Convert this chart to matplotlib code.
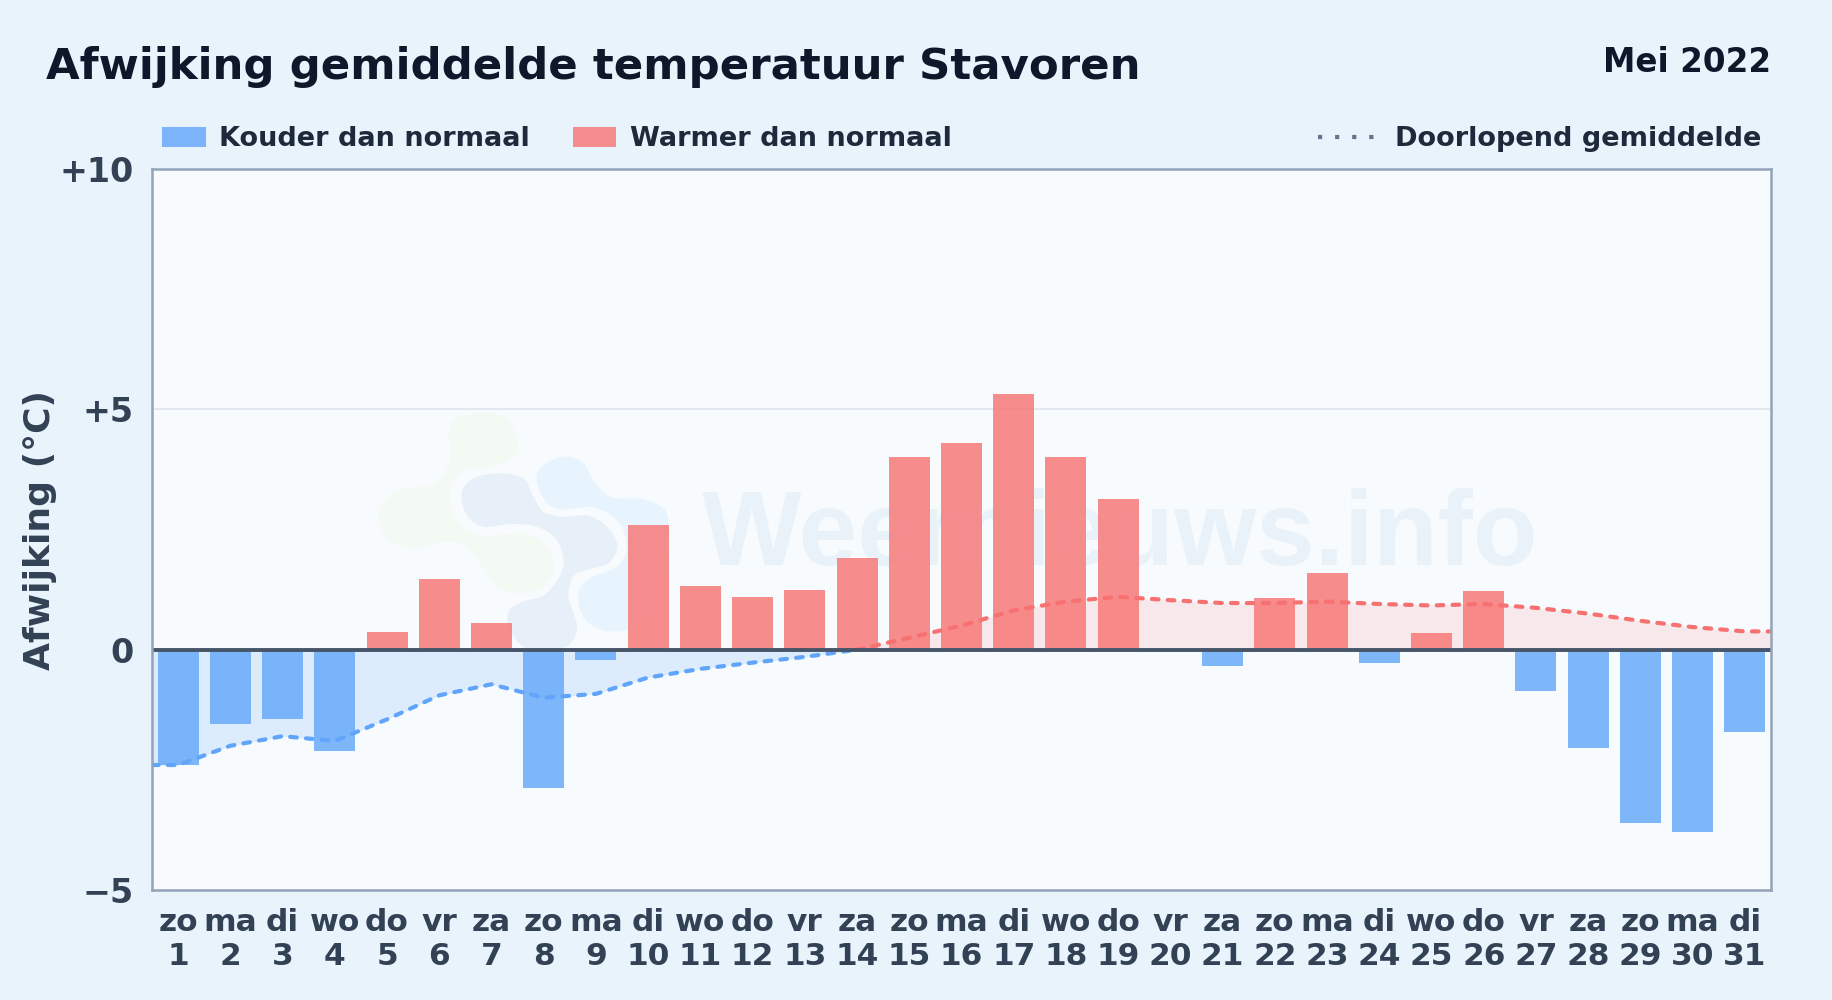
import numpy as np
import matplotlib
matplotlib.use("Agg")
import matplotlib.pyplot as plt
from matplotlib.lines import Line2D
from matplotlib.patches import PathPatch, Rectangle
from matplotlib.path import Path

W, H = 1832, 1000

# data
weekdays = ["zo", "ma", "di", "wo", "do", "vr", "za"] * 4 + ["zo", "ma", "di"]
days = np.arange(1, 32)
afwijking = [-2.4, -1.55, -1.45, -2.1, 0.37, 1.47, 0.55, -2.87, -0.22, 2.6,
             1.32, 1.1, 1.24, 1.9, 4.0, 4.3, 5.32, 4.0, 3.14, 0.0,
             -0.35, 1.07, 1.6, -0.28, 0.35, 1.22, -0.85, -2.05, -3.6, -3.8, -1.72]
gemiddelde = [-2.4, -2.0, -1.8, -1.9, -1.45, -0.95, -0.72, -1.0, -0.92, -0.58,
              -0.4, -0.27, -0.15, 0.0, 0.25, 0.5, 0.82, 1.0, 1.1, 1.03,
              0.97, 0.97, 1.0, 0.95, 0.92, 0.95, 0.87, 0.75, 0.6, 0.47, 0.38]
y_ticks = [-5, 0, 5, 10]
y_ticklabels = ["\u22125", "0", "+5", "+10"]

# logo outlines of the watermark, in pixels of a crop at (360, 390) scaled 3x
logo_green = [(265, 130), (290, 85), (370, 70), (440, 85), (475, 160), (455, 205), (390, 232),
              (320, 240), (280, 270), (268, 330), (295, 395), (360, 436), (440, 432), (500, 432),
              (560, 470), (582, 530), (550, 590), (480, 610), (410, 590), (360, 520), (320, 470),
              (260, 455), (170, 472), (100, 460), (60, 410), (65, 345), (120, 300), (225, 280),
              (265, 225), (272, 170)]
logo_dark = [(305, 310), (340, 265), (420, 250), (490, 265), (515, 310), (550, 365), (610, 380),
             (690, 378), (750, 420), (772, 470), (745, 520), (680, 540), (640, 560), (625, 620),
             (650, 700), (640, 750), (600, 775), (500, 775), (450, 720), (445, 665), (490, 635),
             (560, 610), (610, 530), (590, 450), (530, 410), (450, 402), (370, 410), (320, 375)]
logo_light = [(530, 255), (565, 215), (620, 200), (670, 220), (700, 270), (750, 320), (850, 328),
              (910, 355), (925, 400), (915, 480), (895, 600), (860, 690), (790, 722), (720, 718),
              (670, 680), (655, 610), (690, 565), (770, 530), (800, 470), (775, 395), (700, 352),
              (600, 358), (550, 325)]

BG = "#e8f3fc"
PLOT_BG = "#f7fbfe"
COLD = "#60a5fa"
WARM = "#f87171"
TICK_COL = "#334155"
TITLE_COL = "#0f172a"
LEGEND_COL = "#1e293b"

plt.rcParams["font.family"] = ["DejaVu Sans"]
plt.rcParams["font.weight"] = "bold"

fig = plt.figure(figsize=(W / 100, H / 100), dpi=100, facecolor=BG)
left, right, top, bottom = 152, 1771, 169, 890
ax = fig.add_axes([left / W, 1 - bottom / H, (right - left) / W, (bottom - top) / H])
ax.set_facecolor(PLOT_BG)
ax.set_xlim(0.5, 31.5)
ax.set_ylim(-5, 10)


def fx(x):
    return x / W


def fy(y):
    return 1 - y / H


def logo_blob(outline, color):
    # closed smooth shape through the outline points
    pts = np.array(outline, dtype=float)
    pts = np.c_[360 + pts[:, 0] / 3, 390 + pts[:, 1] / 3]
    pts = np.c_[(pts[:, 0] - left) / (right - left), (bottom - pts[:, 1]) / (bottom - top)]
    n = len(pts)
    verts = [pts[0]]
    codes = [Path.MOVETO]
    for i in range(n):
        p0, p1, p2, p3 = pts[i - 1], pts[i], pts[(i + 1) % n], pts[(i + 2) % n]
        verts += [p1 + (p2 - p0) / 6, p2 - (p3 - p1) / 6, p2]
        codes += [Path.CURVE4] * 3
    ax.add_patch(PathPatch(Path(verts, codes), transform=ax.transAxes, facecolor=color,
                           lw=0, zorder=1))


logo_blob(logo_green, "#f3f9f3")
logo_blob(logo_light, "#e8f4fd")
logo_blob(logo_dark, "#e7eff8")
ax.text((702 - left) / (right - left), (bottom - 565) / (bottom - top), "Weernieuws.info",
        transform=ax.transAxes, fontsize=76, fontweight="bold", family="Liberation Sans",
        color="#e9f2f9", va="baseline", ha="left", zorder=1)

ax.axhline(5, color="#e2e8f0", lw=1.4, zorder=1.5)

# shaded running mean, split on sign
line_x = np.r_[0.5, days, 31.5]
line_y = np.r_[gemiddelde[0], gemiddelde, gemiddelde[-1]]
neg = line_y <= 0
pos = line_y >= 0
ax.fill_between(line_x, line_y, 0, where=neg, color=COLD, alpha=0.17, lw=0, zorder=2)
ax.fill_between(line_x, line_y, 0, where=pos, color=WARM, alpha=0.13, lw=0, zorder=2)

values = np.array(afwijking)
bar_cols = [WARM if v >= 0 else COLD for v in values]
ax.bar(days, values, width=0.785, color=bar_cols, alpha=0.8, lw=0, zorder=3)

ax.plot(line_x[neg], line_y[neg], color=COLD, lw=3, ls=(0, (1.6, 2.2)),
        dash_capstyle="round", zorder=4)
ax.plot(line_x[pos], line_y[pos], color=WARM, lw=3, ls=(0, (1.6, 2.2)),
        dash_capstyle="round", zorder=4)

ax.axhline(0, color="#475569", lw=2.8, zorder=5)

for s in ax.spines.values():
    s.set_color("#94a3b8")
    s.set_linewidth(1.8)
    s.set_zorder(6)

ax.set_yticks(y_ticks)
ax.set_yticklabels(y_ticklabels, fontsize=24, color=TICK_COL, fontweight="bold")
ax.set_xticks(days)
ax.set_xticklabels([f"{w}\n{d}" for w, d in zip(weekdays, days)], fontsize=22.5, color=TICK_COL,
                   fontweight="bold", linespacing=1.2)
ax.tick_params(axis="both", length=0)
ax.tick_params(axis="x", pad=13)
ax.tick_params(axis="y", pad=13)

fig.text(fx(40), fy(530), "Afwijking (\u00b0C)", rotation=90, fontsize=26, color=TICK_COL,
         fontweight="bold", ha="center", va="center")
fig.text(fx(46), fy(67), "Afwijking gemiddelde temperatuur Stavoren", fontsize=31.3, color=TITLE_COL,
         fontweight="bold", ha="left", va="center")
fig.text(fx(1771), fy(62), "Mei 2022", fontsize=23.5, color=TITLE_COL, fontweight="bold",
         ha="right", va="center")

# legend
legend_y = 139
fig.add_artist(Rectangle((fx(162), fy(147)), 44 / W, 20 / H, transform=fig.transFigure,
                         facecolor=COLD, alpha=0.8, lw=0))
fig.text(fx(219), fy(legend_y), "Kouder dan normaal", fontsize=19.5, color=LEGEND_COL,
         ha="left", va="center")
fig.add_artist(Rectangle((fx(573), fy(147)), 43 / W, 20 / H, transform=fig.transFigure,
                         facecolor=WARM, alpha=0.8, lw=0))
fig.text(fx(630), fy(legend_y), "Warmer dan normaal", fontsize=19.5, color=LEGEND_COL,
         ha="left", va="center")
fig.add_artist(Line2D([fx(1318), fx(1376)], [fy(137), fy(137)], transform=fig.transFigure,
                      color="#64748b", lw=3, ls=(0, (1, 3.1))))
fig.text(fx(1395), fy(legend_y), "Doorlopend gemiddelde", fontsize=19.5, color=LEGEND_COL,
         ha="left", va="center")

fig.savefig("out.png", dpi=100, facecolor=BG)
